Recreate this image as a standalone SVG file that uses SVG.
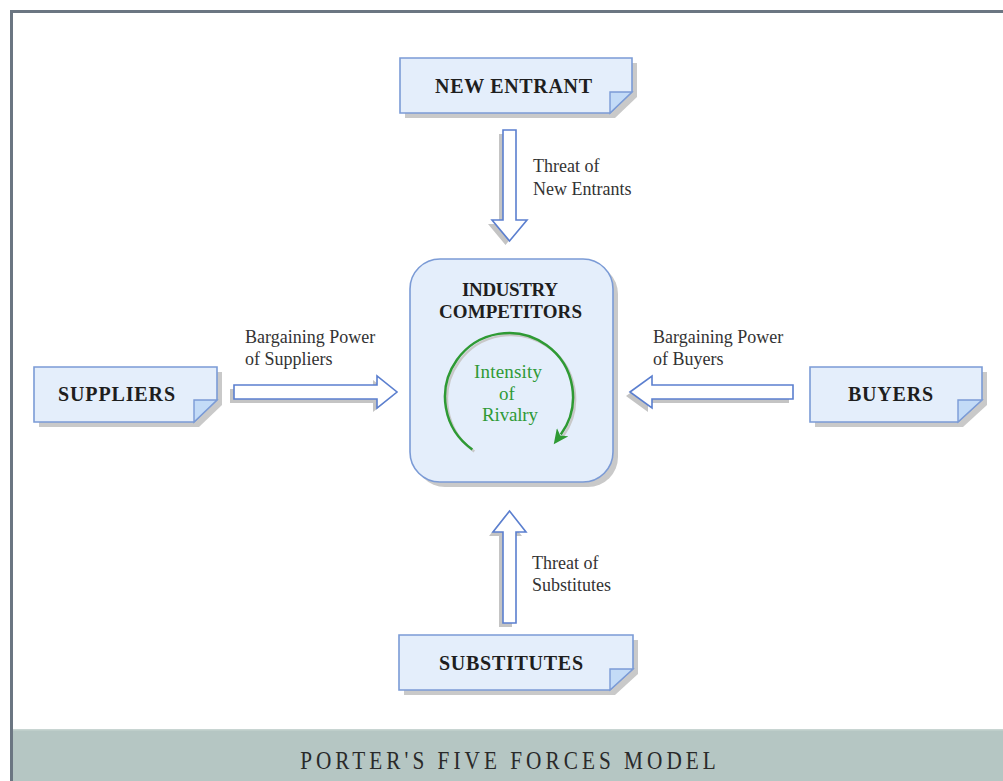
<svg xmlns="http://www.w3.org/2000/svg" width="1003" height="781" viewBox="0 0 1003 781">
<defs>
<style>
.box{fill:#e4eefb;stroke:#7b9bd6;stroke-width:1.6}
.fold{fill:#c3dbf7;stroke:#7b9bd6;stroke-width:1.4}
.shadow{fill:#c9c9c9}
.arrow{fill:#ffffff;stroke:#5b7fcf;stroke-width:1.6}
.ashadow{fill:#c4c4c4}
.title{font-family:"Liberation Serif","Times New Roman",serif;font-weight:bold;font-size:20px;fill:#1e1e1e;text-anchor:middle}
.lbl{font-family:"Liberation Serif","Times New Roman",serif;font-size:18px;fill:#333333}
.green{font-family:"Liberation Serif","Times New Roman",serif;font-size:19px;fill:#2f9a36;text-anchor:middle}
</style>
<marker id="gh" markerUnits="userSpaceOnUse" markerWidth="16" markerHeight="14" refX="3" refY="7" orient="auto">
<path d="M0,0 L15,7 L0,14 L4,7 Z" fill="#2e9a34"/>
</marker>
</defs>
<rect x="0" y="0" width="1003" height="781" fill="#ffffff"/>
<rect x="10" y="10" width="993" height="3" fill="#6b7682"/>
<rect x="10" y="10" width="3" height="771" fill="#6b7682"/>
<rect x="13" y="729" width="990" height="52" fill="#b5c6c3"/>
<rect x="13" y="729" width="990" height="1.5" fill="#c8d5d2"/>
<text transform="scale(0.85,1)" x="597.6" y="769" font-family="'Liberation Serif','Times New Roman',serif" font-size="25" fill="#2a2a2a" text-anchor="middle" textLength="489" lengthAdjust="spacing">PORTER'S FIVE FORCES MODEL</text>

<g id="connectors">
<polygon class="ashadow" points="499,134 512,134 512,224 523,224 505.5,245 488,224 499,224"/>
<polygon class="arrow" points="503,130 516,130 516,220 527,220 509.5,241 492,220 503,220"/>
<polygon class="ashadow" points="505.5,515 522,536 512,536 512,627 499,627 499,536 489,536"/>
<polygon class="arrow" points="509.5,511 526,532 516,532 516,623 503,623 503,532 493,532"/>
<polygon class="ashadow" points="230,389 373,389 373,380 393,396 373,412 373,403 230,403"/>
<polygon class="arrow" points="234,385 377,385 377,376 397,392 377,408 377,399 234,399"/>
<polygon class="ashadow" points="626,396 648,380 648,389 789,389 789,403 648,403 648,412"/>
<polygon class="arrow" points="630,392 652,376 652,385 793,385 793,399 652,399 652,408"/>
<text class="lbl" x="533" y="172">Threat of</text>
<text class="lbl" x="533" y="195">New Entrants</text>
<text class="lbl" x="245" y="343">Bargaining Power</text>
<text class="lbl" x="245" y="365">of Suppliers</text>
<text class="lbl" x="653" y="343">Bargaining Power</text>
<text class="lbl" x="653" y="365">of Buyers</text>
<text class="lbl" x="532" y="569">Threat of</text>
<text class="lbl" x="532" y="591">Substitutes</text>
</g>

<g id="new-entrant">
<path class="shadow" d="M405,63 H637 V97 L615,118 H405 Z"/>
<path class="box" d="M400,58 H632 V92 L610,113 H400 Z"/>
<path class="fold" d="M610,92 H632 L610,113 Z"/>
<text class="title" x="513.5" y="93" textLength="157" lengthAdjust="spacing">NEW ENTRANT</text>
</g>

<g id="suppliers">
<path class="shadow" d="M39,372 H222 V405 L199,427 H39 Z"/>
<path class="box" d="M34,367 H217 V400 L194,422 H34 Z"/>
<path class="fold" d="M194,400 H217 L194,422 Z"/>
<text class="title" x="116.5" y="401" textLength="117" lengthAdjust="spacing">SUPPLIERS</text>
</g>

<g id="buyers">
<path class="shadow" d="M815,372 H987 V405 L963,427 H815 Z"/>
<path class="box" d="M810,367 H982 V400 L958,422 H810 Z"/>
<path class="fold" d="M958,400 H982 L958,422 Z"/>
<text class="title" x="890.5" y="401" textLength="85" lengthAdjust="spacing">BUYERS</text>
</g>

<g id="substitutes">
<path class="shadow" d="M404,640 H638 V674 L615,695 H404 Z"/>
<path class="box" d="M399,635 H633 V669 L610,690 H399 Z"/>
<path class="fold" d="M610,669 H633 L610,690 Z"/>
<text class="title" x="511" y="670" textLength="144" lengthAdjust="spacing">SUBSTITUTES</text>
</g>

<g id="industry-competitors">
<rect class="shadow" x="415" y="264" width="203" height="223" rx="30" fill="#cfcfcf"/>
<rect class="box" x="410" y="259" width="203" height="223" rx="30"/>
<text class="title" x="510" y="296" style="font-size:19px" textLength="96" lengthAdjust="spacing">INDUSTRY</text>
<text class="title" x="510.5" y="318" style="font-size:19px" textLength="143" lengthAdjust="spacing">COMPETITORS</text>
<path d="M474.3,451.4 A64,64 0 1 1 562.8,436.6" fill="none" stroke="#c8c8c8" stroke-width="2.5"/>
<path d="M472.3,449.4 A64,64 0 1 1 560.8,434.6" fill="none" stroke="#2e9a34" stroke-width="2.5" marker-end="url(#gh)"/>
<text class="green" x="508" y="378" textLength="68" lengthAdjust="spacing">Intensity</text>
<text class="green" x="507" y="400">of</text>
<text class="green" x="510" y="421" textLength="56" lengthAdjust="spacing">Rivalry</text>
</g>
</svg>
